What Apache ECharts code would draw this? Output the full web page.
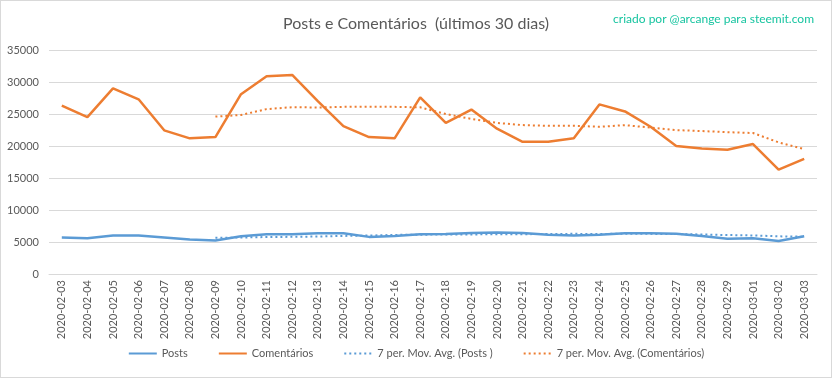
<!DOCTYPE html>
<html>
<head>
<meta charset="utf-8">
<script src="https://cdn.jsdelivr.net/npm/echarts@6/dist/echarts.min.js"></script>
<style>
html,body{margin:0;padding:0;background:#fff;}
#c{width:832px;height:378px;box-sizing:border-box;border:1px solid #d9d9d9;}
</style>
</head>
<body>
<div id="c"></div>
<script>
const categories = ["2020-02-03","2020-02-04","2020-02-05","2020-02-06","2020-02-07","2020-02-08","2020-02-09","2020-02-10","2020-02-11","2020-02-12","2020-02-13","2020-02-14","2020-02-15","2020-02-16","2020-02-17","2020-02-18","2020-02-19","2020-02-20","2020-02-21","2020-02-22","2020-02-23","2020-02-24","2020-02-25","2020-02-26","2020-02-27","2020-02-28","2020-02-29","2020-03-01","2020-03-02","2020-03-03"];
const posts = [5700,5600,6000,6000,5700,5400,5250,5900,6200,6200,6350,6350,5800,5950,6200,6250,6400,6500,6400,6150,6000,6150,6350,6350,6300,5950,5500,5600,5150,5900];
const comentarios = [26300,24500,29000,27300,22450,21200,21400,28100,30900,31100,27000,23100,21400,21200,27600,23600,25700,22700,20650,20650,21200,26500,25400,23000,20000,19600,19400,20300,16300,18000];
const maPosts = [null,null,null,null,null,null,5664,5693,5779,5807,5857,5950,6007,6107,6150,6157,6186,6207,6214,6264,6271,6264,6279,6271,6243,6179,6086,6029,5886,5829];
const maComentarios = [null,null,null,null,null,null,24593,24850,25764,26064,26021,26114,26143,26114,26043,25000,24229,23614,23264,23157,23157,23000,23257,22871,22486,22336,22157,22029,20571,19514];
const yTicks = {min:0, max:35000, interval:5000};
const seriesNames = ["Posts","Comentários","7 per. Mov. Avg. (Posts )","7 per. Mov. Avg. (Comentários)"];

const FONT = 'Lato';
const BLUE = '#5B9BD5', ORANGE = '#ED7D31', TXT = '#595959';
const chart = echarts.init(document.getElementById('c'));
chart.setOption({
  backgroundColor:'#fff',
  animation:false,
  title:[{
    text:'Posts e Comentários  (últimos 30 dias)',
    left:'center', top:10,
    textStyle:{fontFamily:FONT,fontSize:16,fontWeight:'normal',color:TXT}
  },{
    text:'criado por @arcange para steemit.com',
    right:12, top:7,
    textStyle:{fontFamily:FONT,fontSize:12,fontWeight:'normal',color:'#17C4A0'}
  }],
  legend:{
    bottom:13, left:'center',
    itemWidth:28, itemHeight:8, itemGap:30,
    itemStyle:{opacity:0},
    textStyle:{fontFamily:FONT,fontSize:11,color:TXT},
    data:seriesNames
  },
  grid:{left:48,right:14,top:49,bottom:103},
  xAxis:{
    type:'category', data:categories, boundaryGap:true,
    axisLine:{lineStyle:{color:'#d9d9d9'}},
    axisTick:{show:false},
    axisLabel:{rotate:90,interval:0,margin:6,fontFamily:FONT,fontSize:11,color:TXT}
  },
  yAxis:{
    type:'value', min:yTicks.min, max:yTicks.max, interval:yTicks.interval,
    axisLine:{show:false}, axisTick:{show:false},
    splitLine:{lineStyle:{color:'#d9d9d9'}},
    axisLabel:{margin:10,fontFamily:FONT,fontSize:11,color:TXT,formatter:function(v){return String(v);}}
  },
  series:[
    {name:seriesNames[0],type:'line',data:posts,symbol:'none',lineStyle:{color:BLUE,width:2.5},itemStyle:{color:BLUE},z:3},
    {name:seriesNames[1],type:'line',data:comentarios,symbol:'none',lineStyle:{color:ORANGE,width:2.5},itemStyle:{color:ORANGE},z:3},
    {name:seriesNames[2],type:'line',data:maPosts,symbol:'none',lineStyle:{color:BLUE,width:2,type:[2,3]},itemStyle:{color:BLUE},z:2},
    {name:seriesNames[3],type:'line',data:maComentarios,symbol:'none',lineStyle:{color:ORANGE,width:2,type:[2,3]},itemStyle:{color:ORANGE},z:2}
  ]
});
</script>
</body>
</html>
